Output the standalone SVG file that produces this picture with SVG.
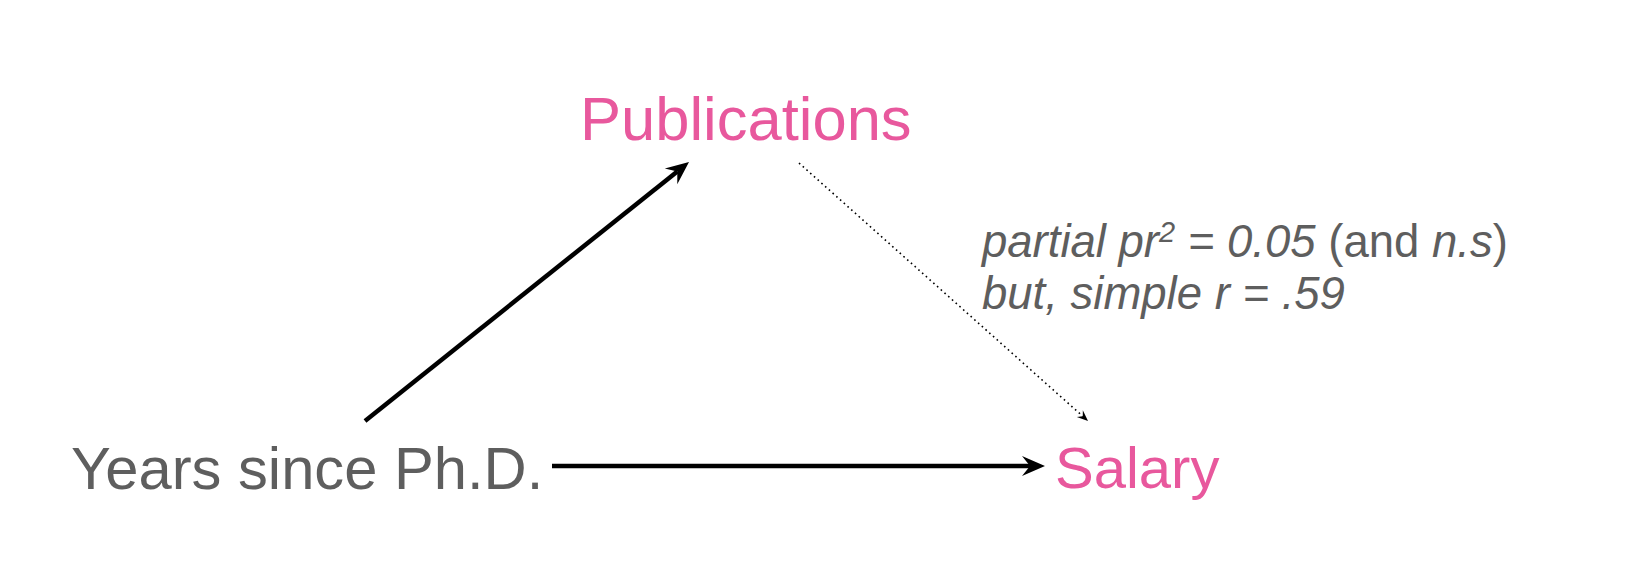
<svg xmlns="http://www.w3.org/2000/svg" width="1628" height="578" viewBox="0 0 1628 578">
<style>
.node{font-family:"Liberation Sans",Arial,Helvetica,sans-serif;font-size:58px}
.pink{fill:#e8589d}
.gray{fill:#5e5e5e}
.lbl{font-family:"Liberation Sans",Arial,Helvetica,sans-serif;font-size:45.5px;fill:#5e5e5e}
.it{font-style:italic}
.solid{stroke:#000;stroke-width:4.5;fill:none}
.dot{stroke:#000;stroke-width:1.6;fill:none;stroke-dasharray:1.6 3.4}
</style>
<defs>
<marker id="head" markerUnits="userSpaceOnUse" viewBox="-9 -11 25 22" markerWidth="25" markerHeight="22" refX="0" refY="0" orient="auto">
<path d="M15,0 L-8,-10 L0,0 L-8,10 Z" fill="#000"/>
</marker>
<marker id="headSmall" markerUnits="userSpaceOnUse" viewBox="-5 -6 13 12" markerWidth="13" markerHeight="12" refX="0" refY="0" orient="auto">
<path d="M7,0 L-4,-4.5 L0,0 L-4,4.5 Z" fill="#000"/>
</marker>
</defs>
<rect width="1628" height="578" fill="#fff"/>
<g id="connectors">
<line class="solid" x1="365" y1="421" x2="677.3" y2="171.4" marker-end="url(#head)"/>
<line class="solid" x1="552" y1="466" x2="1030" y2="466" marker-end="url(#head)"/>
<line class="dot" x1="799" y1="163" x2="1082.8" y2="416.3" marker-end="url(#headSmall)"/>
</g>
<g id="node-publications">
<text class="node pink" x="580" y="140" style="font-size:61.5px">Publications</text>
</g>
<g id="node-years">
<text class="node gray" x="71" y="489" style="font-size:59.7px">Years since Ph.D.</text>
</g>
<g id="node-salary">
<text class="node pink" x="1055" y="488">Salary</text>
</g>
<g id="label-publications-salary">
<text class="lbl" x="982" y="257"><tspan class="it">partial pr<tspan style="font-size:29px" dy="-15">2</tspan><tspan dy="15"> = 0.05</tspan></tspan> (and <tspan class="it">n.s</tspan>)</text>
<text class="lbl it" x="982" y="309">but, simple r = .59</text>
</g>
</svg>
